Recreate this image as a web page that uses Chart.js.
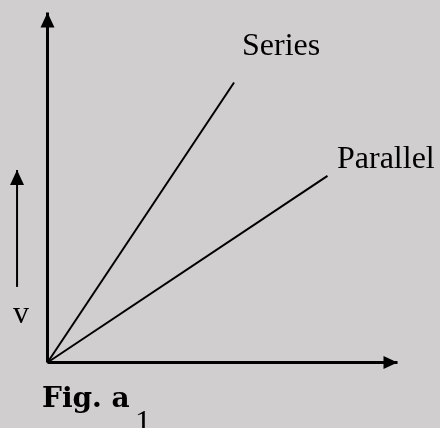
<!DOCTYPE html>
<html>
<head>
<meta charset="utf-8">
<script src="https://cdn.jsdelivr.net/npm/chart.js@4"></script>
<style>
  body { margin: 0; background: #d0cecf; }
  #wrap { position: relative; width: 440px; height: 428px; overflow: hidden; }
  .lbl { position: absolute; white-space: nowrap; color: #000; line-height: 1; }
  .serif { font-family: "Liberation Serif", "Times New Roman", serif; font-size: 32px; }
  .fig { font-family: "DejaVu Serif", serif; font-weight: bold; font-size: 28px; }
</style>
</head>
<body>
<div id="wrap">
  <canvas id="fig" width="440" height="428"></canvas>
  <span class="lbl serif" style="left:242px; top:28px;">Series</span>
  <span class="lbl serif" style="left:337px; top:141px;">Parallel</span>
  <span class="lbl serif" style="left:13px; top:296px;">v</span>
  <span class="lbl fig" style="left:42px; top:384px;">Fig. a</span>
  <span class="lbl serif" style="left:135px; top:405px;">1</span>
</div>
<script>
// schematic values (arbitrary units, axes run 0..10)
const seriesX = [0, 5.33];
const seriesY = [0, 8];
const parallelX = [0, 8];
const parallelY = [0, 5.33];
const xAxisX = [0, 10];
const xAxisY = [0, 0];
const yAxisX = [0, 0];
const yAxisY = [0, 10];
const vArrowX = [-0.87, -0.87];
const vArrowY = [2.16, 5.5];

const pts = (xs, ys) => xs.map((x, i) => ({ x: x, y: ys[i] }));

const arrowHeads = {
  id: 'arrowHeads',
  afterDatasetsDraw(chart) {
    const ctx = chart.ctx;
    chart.data.datasets.forEach((ds, i) => {
      if (!ds.arrow) return;
      const meta = chart.getDatasetMeta(i);
      const n = meta.data.length;
      const a = meta.data[n - 2], b = meta.data[n - 1];
      const ang = Math.atan2(b.y - a.y, b.x - a.x);
      const len = ds.arrow.len, half = ds.arrow.half;
      ctx.save();
      ctx.translate(b.x, b.y);
      ctx.rotate(ang);
      ctx.beginPath();
      ctx.moveTo(0, 0);
      ctx.lineTo(-len, -half);
      ctx.lineTo(-len, half);
      ctx.closePath();
      ctx.fillStyle = '#000';
      ctx.fill();
      ctx.restore();
    });
  }
};

new Chart(document.getElementById('fig').getContext('2d'), {
  type: 'scatter',
  data: {
    datasets: [
      { label: 'Series', data: pts(seriesX, seriesY), borderColor: '#000', borderWidth: 2 },
      { label: 'Parallel', data: pts(parallelX, parallelY), borderColor: '#000', borderWidth: 2 },
      { label: 'x axis', data: pts(xAxisX, xAxisY), borderColor: '#000', borderWidth: 3, arrow: { len: 14, half: 6.5 } },
      { label: 'y axis', data: pts(yAxisX, yAxisY), borderColor: '#000', borderWidth: 3, arrow: { len: 15, half: 7 } },
      { label: 'v', data: pts(vArrowX, vArrowY), borderColor: '#000', borderWidth: 2, arrow: { len: 15, half: 7 } }
    ]
  },
  options: {
    responsive: false,
    animation: false,
    showLine: true,
    layout: { padding: 0 },
    elements: { point: { radius: 0, hoverRadius: 0 }, line: { borderCapStyle: 'butt', tension: 0 } },
    plugins: { legend: { display: false }, tooltip: { enabled: false } },
    events: [],
    scales: {
      x: { type: 'linear', display: false, min: -1.357, max: 11.214 },
      y: { type: 'linear', display: false, min: -1.871, max: 10.357 }
    }
  },
  plugins: [arrowHeads]
});
</script>
</body>
</html>
